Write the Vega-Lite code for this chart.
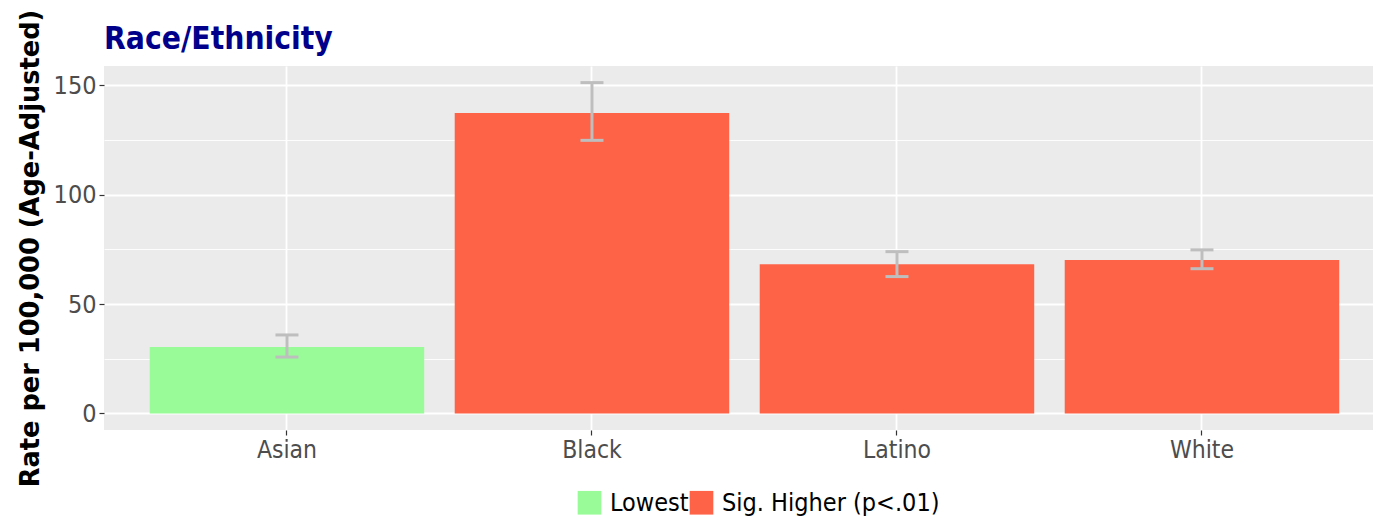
{
  "$schema": "https://vega.github.io/schema/vega-lite/v6.json",
  "width": 1269,
  "height": 364,
  "autosize": "none",
  "padding": {"left": 104, "top": 66, "right": 0, "bottom": 94},
  "background": "white",
  "title": {
    "text": "Race/Ethnicity",
    "anchor": "start",
    "frame": "group",
    "font": "DejaVu Sans Condensed",
    "fontWeight": "bold",
    "fontSize": 31.5,
    "color": "#00008B",
    "baseline": "bottom",
    "offset": 8,
    "dy": 86
  },
  "data": {
    "values": [
      {"race": "Asian", "rate": 30.4, "lo": 25.8, "hi": 35.9, "group": "Lowest"},
      {"race": "Black", "rate": 137.4, "lo": 124.9, "hi": 151.3, "group": "Sig. Higher (p<.01)"},
      {"race": "Latino", "rate": 68.2, "lo": 62.6, "hi": 74.0, "group": "Sig. Higher (p<.01)"},
      {"race": "White", "rate": 70.2, "lo": 66.2, "hi": 74.8, "group": "Sig. Higher (p<.01)"}
    ]
  },
  "encoding": {
    "x": {
      "field": "race",
      "type": "nominal",
      "sort": ["Asian", "Black", "Latino", "White"],
      "scale": {"paddingInner": 0.1, "paddingOuter": 0.1303, "align": 0.575},
      "axis": {
        "title": null,
        "domain": false,
        "bandPosition": 0.5,
        "grid": true,
        "gridColor": "white",
        "gridWidth": 1.8,
        "ticks": true,
        "tickColor": "#333333",
        "tickWidth": 1.2,
        "tickSize": 5,
        "labelAngle": 0,
        "labelFont": "DejaVu Sans Condensed",
        "labelFontSize": 24.5,
        "labelColor": "#4D4D4D",
        "labelPadding": 3
      }
    }
  },
  "layer": [
    {
      "mark": {"type": "bar"},
      "encoding": {
        "y": {
          "field": "rate",
          "type": "quantitative",
          "scale": {"domain": [-7.57, 158.9], "nice": false, "zero": false},
          "axis": {
            "title": "Rate per 100,000 (Age-Adjusted)",
            "titleFont": "DejaVu Sans",
            "titleFontWeight": "bold",
            "titleFontSize": 25.7,
            "titleColor": "black",
            "titlePadding": 10,
            "values": [0, 25, 50, 75, 100, 125, 150],
            "labelExpr": "datum.value % 50 === 0 ? datum.label : ''",
            "domain": false,
            "grid": true,
            "gridColor": "white",
            "gridWidth": {"condition": {"test": "datum.value % 50 !== 0", "value": 0.9}, "value": 1.8},
            "ticks": true,
            "tickColor": "#333333",
            "tickWidth": 1.2,
            "tickSize": 5,
            "tickOpacity": {"condition": {"test": "datum.value % 50 !== 0", "value": 0}, "value": 1},
            "labelFont": "DejaVu Sans Condensed",
            "labelFontSize": 25,
            "labelColor": "#4D4D4D",
            "labelPadding": 3
          }
        },
        "color": {
          "field": "group",
          "type": "nominal",
          "scale": {"domain": ["Lowest", "Sig. Higher (p<.01)"], "range": ["#98FB98", "#FF6347"]},
          "legend": {
            "title": null,
            "orient": "none",
            "direction": "horizontal",
            "legendX": 473,
            "legendY": 424,
            "padding": 0,
            "symbolType": "square",
            "symbolSize": 560,
            "symbolStrokeWidth": 0,
            "labelFont": "DejaVu Sans Condensed",
            "labelFontSize": 25,
            "labelColor": "black",
            "labelLimit": 0,
            "labelOffset": 8,
            "columnPadding": 0
          }
        }
      }
    },
    {
      "mark": {"type": "rule", "color": "#BEBEBE", "strokeWidth": 3},
      "encoding": {
        "y": {"field": "lo", "type": "quantitative", "title": "Rate per 100,000 (Age-Adjusted)", "scale": {"domain": [-7.57, 158.9], "nice": false, "zero": false}},
        "y2": {"field": "hi"}
      }
    },
    {
      "mark": {"type": "tick", "color": "#BEBEBE", "size": 23, "thickness": 3, "orient": "horizontal"},
      "encoding": {
        "y": {"field": "lo", "type": "quantitative", "title": "Rate per 100,000 (Age-Adjusted)", "scale": {"domain": [-7.57, 158.9], "nice": false, "zero": false}}
      }
    },
    {
      "mark": {"type": "tick", "color": "#BEBEBE", "size": 23, "thickness": 3, "orient": "horizontal"},
      "encoding": {
        "y": {"field": "hi", "type": "quantitative", "title": "Rate per 100,000 (Age-Adjusted)", "scale": {"domain": [-7.57, 158.9], "nice": false, "zero": false}}
      }
    }
  ],
  "config": {
    "view": {"fill": "#EBEBEB", "stroke": null},
    "tick": {"opacity": 1}
  }
}
